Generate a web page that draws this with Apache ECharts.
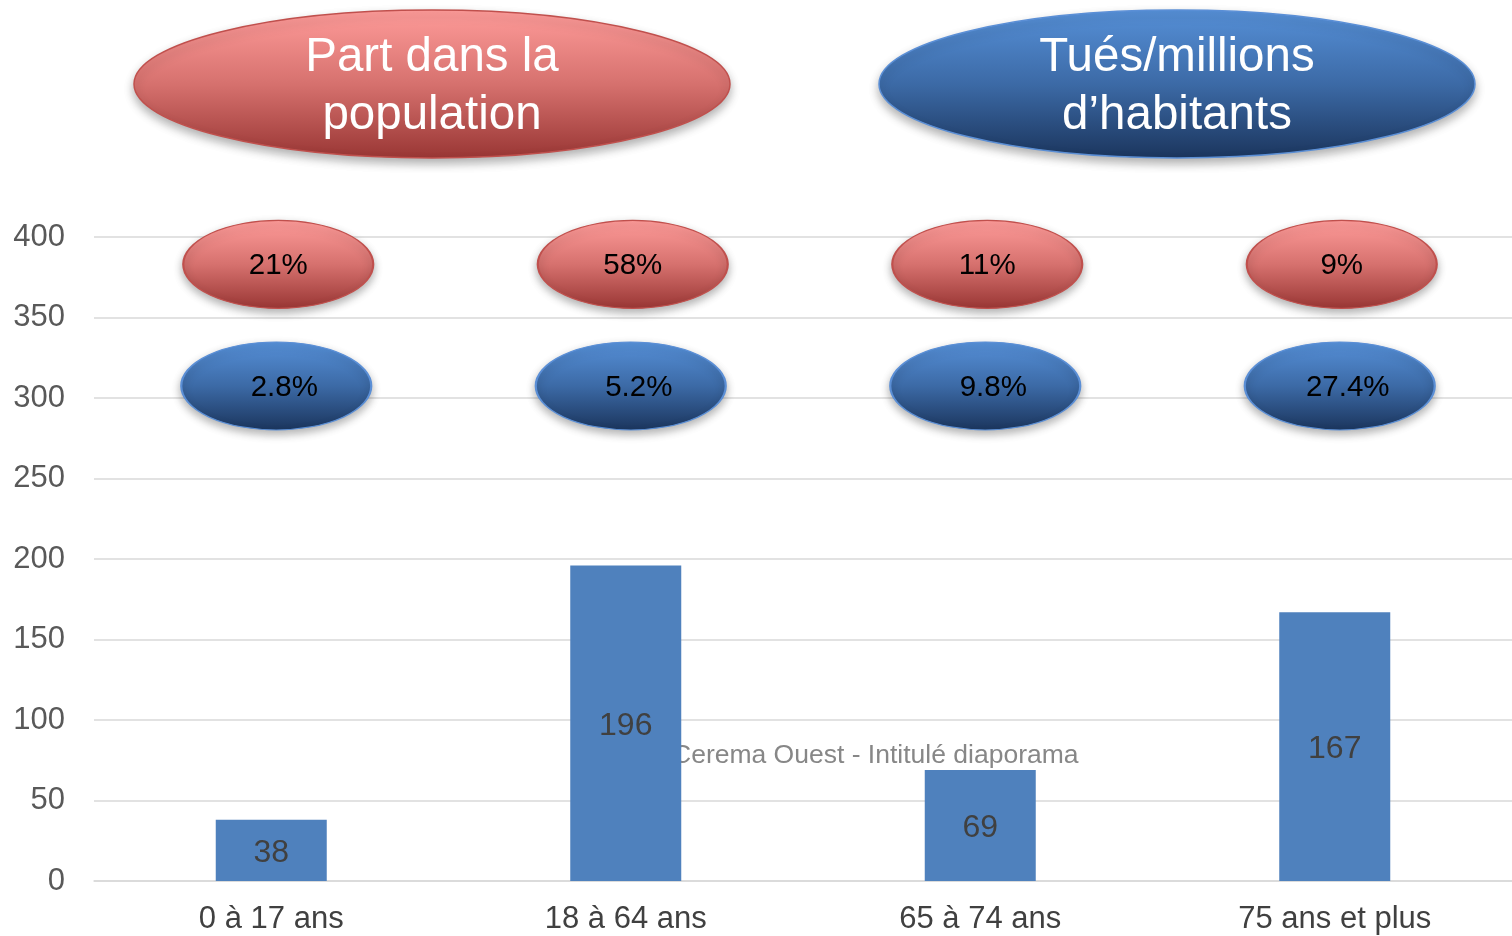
<!DOCTYPE html>
<html>
<head>
<meta charset="utf-8">
<script src="https://cdn.jsdelivr.net/npm/echarts@6/dist/echarts.min.js"></script>
<style>html,body{margin:0;padding:0;background:#fff;}#c{width:1512px;height:936px;}</style>
</head>
<body>
<div id="c"></div>
<script>
const categories = ['0 à 17 ans', '18 à 64 ans', '65 à 74 ans', '75 ans et plus'];
const killedPerMillion = [38, 196, 69, 167];
const populationShare = ['21%', '58%', '11%', '9%'];
const killedShare = ['2.8%', '5.2%', '9.8%', '27.4%'];
const yTicks = [0, 50, 100, 150, 200, 250, 300, 350, 400];

const RED_ROW = 383;
const BLUE_ROW = 307.5;

const chart = echarts.init(document.getElementById('c'));
const FONT = 'Liberation Sans, Arial, sans-serif';

function redGrad() {
  return new echarts.graphic.LinearGradient(0, 0, 0, 1, [
    { offset: 0, color: '#FF9C9A' },
    { offset: 0.5, color: '#D6716E' },
    { offset: 1, color: '#993634' }
  ]);
}
function blueGrad() {
  return new echarts.graphic.LinearGradient(0, 0, 0, 1, [
    { offset: 0, color: '#5690D8' },
    { offset: 0.5, color: '#3C6AA6' },
    { offset: 1, color: '#1B355D' }
  ]);
}

const option = {
  animation: false,
  backgroundColor: '#ffffff',
  grid: { left: 94, right: 0, top: 237, bottom: 55, containLabel: false },
  xAxis: {
    type: 'category',
    data: categories,
    axisLine: { show: true, lineStyle: { color: '#d9d9d9', width: 1.5 } },
    axisTick: { show: false },
    axisLabel: { color: '#404040', fontSize: 31, fontFamily: FONT, margin: 23 }
  },
  yAxis: {
    type: 'value',
    min: yTicks[0],
    max: yTicks[yTicks.length - 1],
    interval: 50,
    axisLine: { show: false },
    axisTick: { show: false },
    axisLabel: { color: '#595959', fontSize: 31, fontFamily: FONT, margin: 29 },
    splitLine: { lineStyle: { color: '#d9d9d9', width: 1.5 } }
  },
  series: [
    {
      type: 'bar',
      data: killedPerMillion,
      barWidth: 111,
      itemStyle: { color: '#4F81BD' },
      label: { show: true, position: 'inside', offset: [0, 3], color: '#404040', fontSize: 32, fontFamily: FONT },
      z: 2
    },
    {
      type: 'scatter',
      data: populationShare.map((s, i) => [categories[i], RED_ROW, s]),
      symbol: 'circle',
      symbolSize: [190, 88],
      symbolOffset: [7, 0],
      itemStyle: {
        color: redGrad(),
        borderColor: '#C0504D',
        borderWidth: 1.5,
        shadowBlur: 8,
        shadowOffsetY: 4,
        shadowColor: 'rgba(0,0,0,0.3)',
        opacity: 1
      },
      label: {
        show: true, position: 'inside', offset: [0, 1],
        formatter: p => p.data[2],
        color: '#000', fontSize: 29.5, fontFamily: FONT
      },
      z: 3
    },
    {
      type: 'scatter',
      data: killedShare.map((s, i) => [categories[i], BLUE_ROW, s]),
      symbol: 'circle',
      symbolSize: [190, 88],
      symbolOffset: [5, 0],
      itemStyle: {
        color: blueGrad(),
        borderColor: '#5B8FD6',
        borderWidth: 1.5,
        shadowBlur: 8,
        shadowOffsetY: 4,
        shadowColor: 'rgba(0,0,0,0.3)',
        opacity: 1
      },
      label: {
        show: true, position: 'inside', offset: [8, 2],
        formatter: p => p.data[2],
        color: '#000', fontSize: 29.5, fontFamily: FONT
      },
      z: 3
    }
  ],
  graphic: [
    {
      type: 'text', z: 0, left: 672, top: 742,
      style: { text: 'Cerema Ouest - Intitulé diaporama', fill: '#878787', fontSize: 26.5, fontFamily: FONT }
    },
    {
      type: 'ellipse', z: 1,
      shape: { cx: 432, cy: 84, rx: 298, ry: 74 },
      style: { fill: redGrad(), stroke: '#C0504D', lineWidth: 1.5, shadowBlur: 10, shadowOffsetY: 5, shadowColor: 'rgba(0,0,0,0.3)' }
    },
    {
      type: 'text', z: 2,
      x: 432, y: 87,
      style: { text: 'Part dans la\npopulation', fill: '#ffffff', fontSize: 47.5, fontFamily: FONT, align: 'center', verticalAlign: 'middle', lineHeight: 58 }
    },
    {
      type: 'ellipse', z: 1,
      shape: { cx: 1177, cy: 84, rx: 298, ry: 74 },
      style: { fill: blueGrad(), stroke: '#5B8FD6', lineWidth: 1.5, shadowBlur: 10, shadowOffsetY: 5, shadowColor: 'rgba(0,0,0,0.3)' }
    },
    {
      type: 'text', z: 2,
      x: 1177, y: 87,
      style: { text: 'Tués/millions\nd’habitants', fill: '#ffffff', fontSize: 47.5, fontFamily: FONT, align: 'center', verticalAlign: 'middle', lineHeight: 58 }
    }
  ]
};
chart.setOption(option);
</script>
</body>
</html>
